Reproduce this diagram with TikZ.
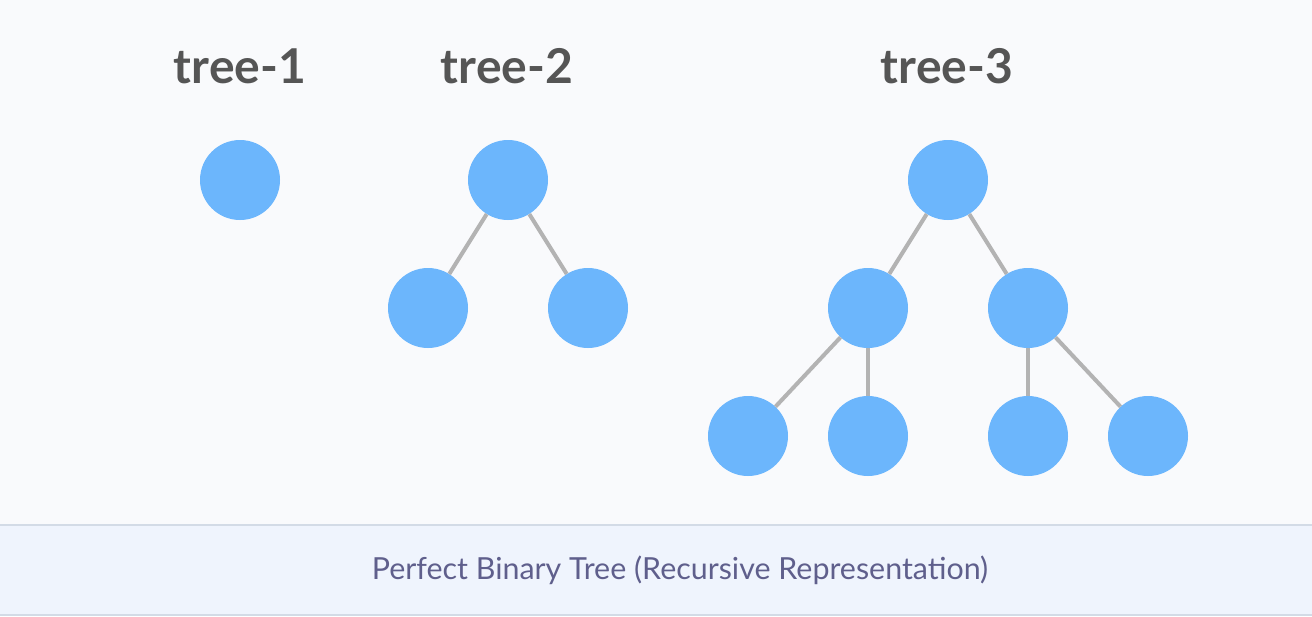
\documentclass[tikz,border=0pt]{standalone}
\usepackage{fontspec}
\setmainfont{Lato}
\definecolor{nodeblue}{HTML}{6CB6FC}
\definecolor{edgegray}{HTML}{B3B3B3}
\definecolor{titlegray}{HTML}{555555}
\definecolor{capcolor}{HTML}{5F5F8C}
\definecolor{bgtop}{HTML}{F9FAFC}
\definecolor{bgband}{HTML}{EFF4FD}
\definecolor{bandline}{HTML}{D3DBE6}
\tikzset{
  tnode/.style={circle, fill=nodeblue, minimum size=80pt, inner sep=0pt},
  tedge/.style={edgegray, line width=4pt},
  ttitle/.style={font=\fontsize{48}{54}\selectfont\bfseries, text=titlegray}
}
\begin{document}
\begin{tikzpicture}[x=1pt, y=-1pt]
    \useasboundingbox (0,0) rectangle (1312,616);
    \fill[bgtop] (0,0) rectangle (1312,524);
    \fill[bgband] (0,524) rectangle (1312,616);
    \draw[bandline, line width=2pt] (0,525) -- (1312,525);
    \draw[bandline, line width=2pt] (0,615) -- (1312,615);
    % titles
    \node[ttitle] (t1) at (240,66) {tree-1};
    \node[ttitle] (t2) at (507,66) {tree-2};
    \node[ttitle] (t3) at (947,66) {tree-3};
    % tree-1
    \node[tnode] (a) at (240,180) {};
    % tree-2
    \node[tnode] (b) at (508,180) {};
    \node[tnode] (bl) at (428,308) {};
    \node[tnode] (br) at (588,308) {};
    \draw[tedge] (b) -- (bl);
    \draw[tedge] (b) -- (br);
    % tree-3
    \node[tnode] (c) at (948,180) {};
    \node[tnode] (cl) at (868,308) {};
    \node[tnode] (cr) at (1028,308) {};
    \node[tnode] (cll) at (748,436) {};
    \node[tnode] (clr) at (868,436) {};
    \node[tnode] (crl) at (1028,436) {};
    \node[tnode] (crr) at (1148,436) {};
    \foreach \p/\q in {c/cl, c/cr, cl/cll, cl/clr, cr/crl, cr/crr}
        \draw[tedge] (\p) -- (\q);
    % caption
    \node[font=\fontsize{30.4}{35}\selectfont, text=capcolor] (cap) at (680,570) {Perfect Binary Tree (Recursive Representation)};
\end{tikzpicture}
\end{document}
